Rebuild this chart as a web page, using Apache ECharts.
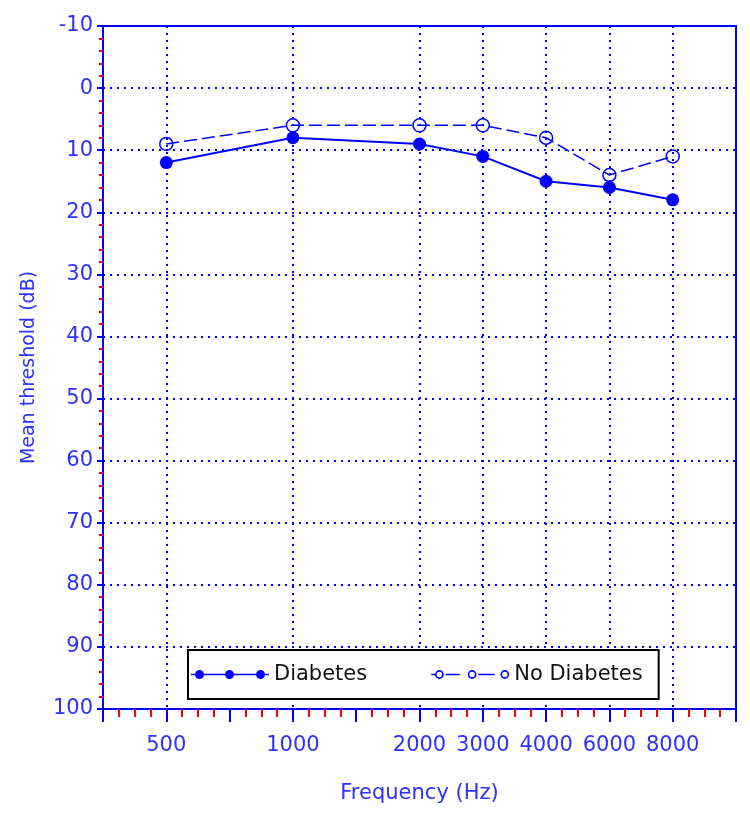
<!DOCTYPE html>
<html lang="en">
<head>
    <meta charset="UTF-8">
    <title>Mean threshold by frequency</title>
    <style>
        body { margin: 0; background: #fff; }
        #chart { width: 750px; height: 815px; }
    </style>
    <script src="https://cdn.jsdelivr.net/npm/echarts@6.0.0/dist/echarts.min.js"></script>
</head>
<body>
    <div id="chart"></div>
    <script>
        // audiogram positions along the x axis (equal spacing)
        var axisFreqs = ['250', '500', '750', '1000', '1500', '2000', '3000', '4000', '6000', '8000', '12000'];
        var tickLabels = ['', '500', '', '1000', '', '2000', '3000', '4000', '6000', '8000', ''];
        var freqs = ['500', '1000', '2000', '3000', '4000', '6000', '8000'];
        var diabetes = [12, 8, 9, 11, 15, 16, 18];
        var noDiabetes = [9, 6, 6, 6, 8, 14, 11];

        var blue = '#0000ff';
        var textBlue = '#3030ff';
        var font = 'DejaVu Sans';

        function toPoints(vals) {
            return freqs.map(function (f, i) { return [axisFreqs.indexOf(f), vals[i]]; });
        }

        // dotted vertical grid lines only at the labelled frequencies
        var vLines = freqs.map(function (f) { return { xAxis: axisFreqs.indexOf(f) }; });

        var iconFilled = 'path://M0 4.3L78 4.3L78 5.7L0 5.7Z' +
            'M4 5A4.5 4.5 0 1 1 13 5A4.5 4.5 0 1 1 4 5Z' +
            'M34 5A4.5 4.5 0 1 1 43 5A4.5 4.5 0 1 1 34 5Z' +
            'M65 5A4.5 4.5 0 1 1 74 5A4.5 4.5 0 1 1 65 5Z';
        function ring(cx) {
            return 'M' + (cx - 4.3) + ' 5A4.3 4.3 0 1 1 ' + (cx + 4.3) + ' 5A4.3 4.3 0 1 1 ' + (cx - 4.3) + ' 5Z' +
                'M' + (cx - 2.7) + ' 5A2.7 2.7 0 1 0 ' + (cx + 2.7) + ' 5A2.7 2.7 0 1 0 ' + (cx - 2.7) + ' 5Z';
        }
        var iconHollow = 'path://M0 0.5L0.01 0.5L0.01 9.5L0 9.5Z' +
            'M0 4.3L4 4.3L4 5.7L0 5.7Z' +
            'M14 4.3L28 4.3L28 5.7L14 5.7Z' +
            'M46 4.3L62 4.3L62 5.7L46 5.7Z' +
            ring(8) + ring(40) + ring(72);

        var chart = echarts.init(document.getElementById('chart'));

        var option = {
            backgroundColor: '#fff',
            textStyle: { fontFamily: font },
            grid: {
                left: 103, right: 14, top: 26, bottom: 106,
                show: true, borderColor: blue, borderWidth: 2, backgroundColor: 'transparent'
            },
            legend: {
                left: 188, top: 650,
                z: 20,
                orient: 'horizontal',
                backgroundColor: '#fff',
                borderColor: '#000',
                borderWidth: 2,
                padding: [14, 16, 14, 3],
                itemGap: 64,
                itemWidth: 78,
                itemHeight: 10,
                textStyle: { fontFamily: font, fontSize: 21, color: '#111' },
                data: [
                    { name: 'Diabetes', icon: iconFilled, itemStyle: { color: blue } },
                    { name: 'No Diabetes', icon: iconHollow, itemStyle: { color: blue, borderWidth: 0 } }
                ]
            },
            xAxis: {
                type: 'value',
                min: 0, max: axisFreqs.length - 1, interval: 1,
                name: 'Frequency (Hz)',
                nameLocation: 'middle',
                nameGap: 74,
                nameTextStyle: { fontFamily: font, fontSize: 21, color: textBlue },
                axisLine: { onZero: false, lineStyle: { color: blue, width: 2 } },
                axisTick: { show: true, length: 13, lineStyle: { color: blue, width: 2 } },
                minorTick: { show: true, splitNumber: 4, length: 8, lineStyle: { color: '#ff0000', width: 2 } },
                axisLabel: {
                    margin: 26, fontSize: 21, fontFamily: font, color: textBlue,
                    showMinLabel: true, showMaxLabel: true,
                    formatter: function (v) { return tickLabels[Math.round(v)] || ''; }
                },
                splitLine: { show: false }
            },
            yAxis: {
                type: 'value',
                inverse: true,
                min: -10, max: 100, interval: 10,
                name: 'Mean threshold (dB)',
                nameLocation: 'middle',
                nameGap: 64,
                nameTextStyle: { fontFamily: font, fontSize: 19, color: textBlue },
                axisLine: { show: true, onZero: false, lineStyle: { color: blue, width: 2 } },
                axisTick: { show: true, length: 6, lineStyle: { color: blue, width: 2 } },
                minorTick: { show: true, splitNumber: 5, length: 4, lineStyle: { color: '#ff0000', width: 2 } },
                axisLabel: { margin: 10, fontSize: 21, fontFamily: font, color: textBlue },
                splitLine: { show: true, lineStyle: { color: blue, width: 2, type: [2, 5] } }
            },
            series: [
                {
                    name: 'Diabetes',
                    type: 'line',
                    data: toPoints(diabetes),
                    symbol: 'circle',
                    symbolSize: 13,
                    itemStyle: { color: blue },
                    lineStyle: { color: blue, width: 2 },
                    z: 4,
                    markLine: {
                        silent: true,
                        symbol: 'none',
                        label: { show: false },
                        lineStyle: { color: blue, width: 2, type: [2, 5] },
                        data: vLines
                    }
                },
                {
                    name: 'No Diabetes',
                    type: 'line',
                    data: toPoints(noDiabetes),
                    symbol: 'circle',
                    symbolSize: 13,
                    itemStyle: { color: 'rgba(0,0,0,0)', borderColor: blue, borderWidth: 1.5 },
                    lineStyle: { color: blue, width: 1.5, type: [13, 5] },
                    z: 3
                }
            ]
        };

        chart.setOption(option);
    </script>
</body>
</html>
